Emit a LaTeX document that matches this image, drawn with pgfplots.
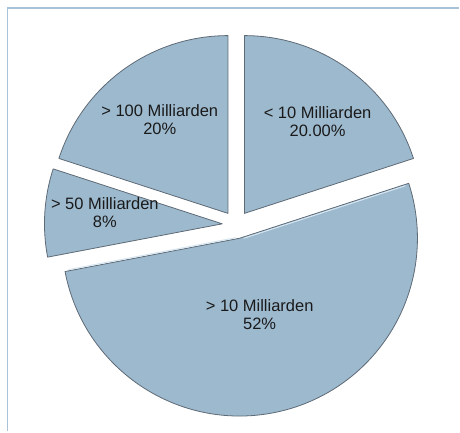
\documentclass[border=0pt]{standalone}
\usepackage{pgfplots}
\pgfplotsset{compat=1.18}
\usepackage{fontspec}
\setmainfont{Liberation Sans}
\definecolor{slice}{HTML}{9DB9CE}
\definecolor{edge}{HTML}{5E6A75}
\definecolor{hilite}{HTML}{D6E6F2}
\definecolor{frame}{HTML}{A9C2D6}
\definecolor{txt}{HTML}{1A1A1A}
% values (percent), counterclockwise from 18 degrees:
% < 10 Milliarden 20, > 100 Milliarden 20, > 50 Milliarden 8, > 10 Milliarden 52
\def\va{20}\def\vb{20}\def\vc{8}\def\vd{52}
\def\R{178pt}\def\ex{14pt}
\begin{document}
\begin{tikzpicture}
\begin{axis}[width=460pt,height=432pt,scale only axis,
  xmin=0,xmax=460,ymin=0,ymax=432,hide axis,clip=false]
\path (axis cs:0,0) rectangle (axis cs:460,432);
\draw[frame,line width=1.2pt] (axis cs:7.5,0) -- (axis cs:7.5,424) -- (axis cs:460,424);
% slice 1: < 10 Milliarden
\filldraw[fill=slice,draw=edge,line width=0.8pt,line join=round]
  (axis cs:236.5,207) ++({18+1.8*\va}:\ex) -- ++(18:\R)
  arc[start angle=18,end angle={18+3.6*\va},radius=\R] -- cycle;
% slice 2: > 100 Milliarden
\filldraw[fill=slice,draw=edge,line width=0.8pt,line join=round]
  (axis cs:236.5,207) ++({90+1.8*\vb}:\ex) -- ++(90:\R)
  arc[start angle=90,end angle={90+3.6*\vb},radius=\R] -- cycle;
% slice 3: > 50 Milliarden
\filldraw[fill=slice,draw=edge,line width=0.8pt,line join=round]
  (axis cs:236.5,207) ++({162+1.8*\vc}:\ex) -- ++(162:\R)
  arc[start angle=162,end angle={162+3.6*\vc},radius=\R] -- cycle;
% slice 4: > 10 Milliarden
\filldraw[fill=slice,draw=edge,line width=0.8pt,line join=round]
  (axis cs:236.5,207) ++({190.8+1.8*\vd}:\ex) -- ++(190.8:\R)
  arc[start angle=190.8,end angle={190.8+3.6*\vd},radius=\R] -- cycle;
% light bevel along the upper edge of the large slice
\draw[hilite,line width=1pt,line cap=round]
  (axis cs:236.5,207) ++({190.8+1.8*\vd}:\ex) ++(190.8:4pt) ++(100.8:1.3pt) -- ++(190.8:170pt);
\draw[hilite,line width=1pt,line cap=round]
  (axis cs:236.5,207) ++({190.8+1.8*\vd}:\ex) ++(18:4pt) ++(288:1.3pt) -- ++(18:170pt);
\begin{scope}[every node/.style={align=center,text=txt,font=\fontsize{16.5}{18.5}\selectfont}]
\node at (axis cs:318,310) {< 10 Milliarden\\20.00\%};
\node at (axis cs:160,312) {> 100 Milliarden\\20\%};
\node at (axis cs:105,219) {> 50 Milliarden\\8\%};
\node at (axis cs:260,117) {> 10 Milliarden\\52\%};
\end{scope}
\end{axis}
\end{tikzpicture}
\end{document}
